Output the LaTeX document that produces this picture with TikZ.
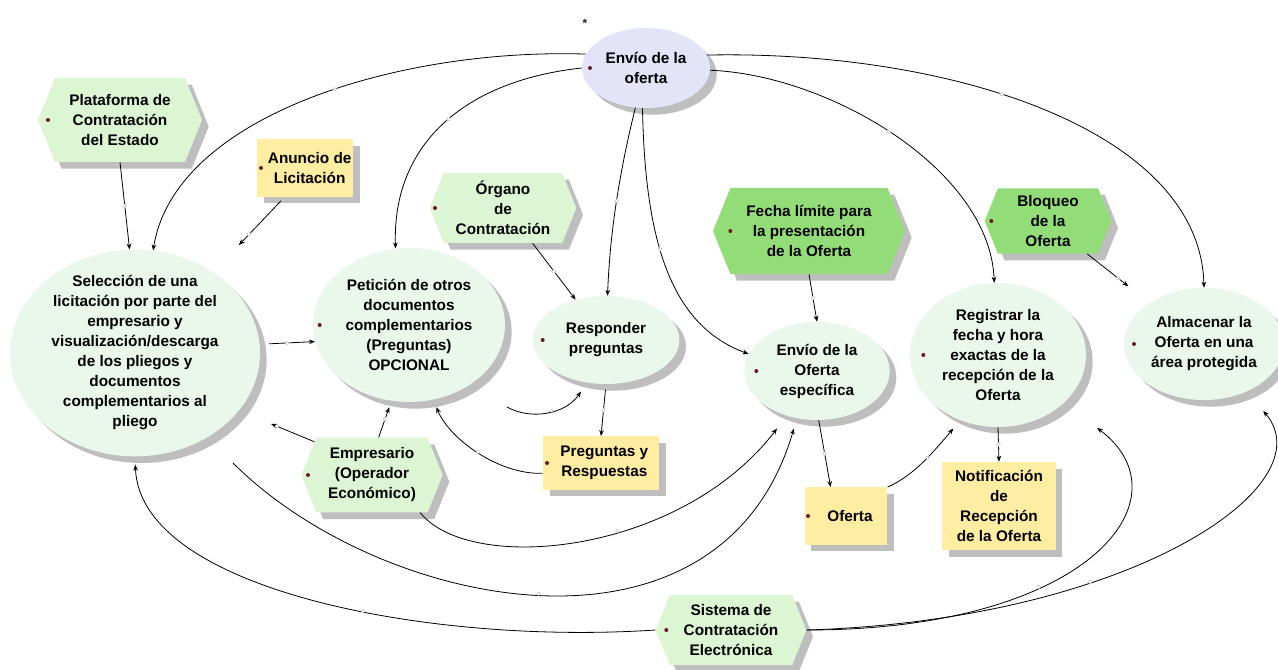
\documentclass[tikz,border=0pt]{standalone}
\usepackage{fontspec}
\setmainfont{Liberation Sans}
\usetikzlibrary{shapes.geometric,shapes.symbols,shadows,arrows.meta,decorations.markings}

\definecolor{palegreen}{RGB}{220,245,210}
\definecolor{brightgreen}{RGB}{146,221,120}
\definecolor{mint}{RGB}{234,248,236}
\definecolor{lavender}{RGB}{228,228,249}
\definecolor{paleyellow}{RGB}{255,237,162}
\definecolor{shadowgray}{RGB}{190,190,190}
\definecolor{dotred}{RGB}{110,25,35}

\begin{document}
\begin{tikzpicture}[x=0.75pt,y=0.75pt,yscale=-1,xscale=1,
  box/.style={font=\bfseries\fontsize{11.5}{15}\selectfont, align=center, text=black, inner sep=0pt,
    drop shadow={shadow xshift=5pt, shadow yshift=-5pt, fill=shadowgray, opacity=1}},
  bubble/.style={box, ellipse, fill=mint},
  hexa/.style={box, signal, signal to=east and west, signal pointer angle=136, fill=palegreen},
  note/.style={box, rectangle, fill=paleyellow},
  withdot/.style={path picture={\fill[dotred] ([xshift=#1]path picture bounding box.west) circle (1.5pt);}},
  conn/.style={draw=black, line width=0.6pt, -{Stealth[length=4.5pt,width=3.5pt]},
    postaction={decorate, decoration={markings, mark=at position 0.5 with {\draw[black!25, line width=0.4pt, fill=white] (0,0) circle (1.4pt);}}}}
]
\path[use as bounding box, fill=white] (0,0) rectangle (1278,670);

% Ellipse nodes
\node[bubble, fill=lavender, withdot=6pt, minimum width=96pt, minimum height=60pt] (envio) at (646,68) {Envío de la\\oferta};
\node[bubble, inner ysep=-12pt, minimum width=187.5pt, minimum height=155pt] (seleccion) at (135,353) {Selección de una\\licitación por parte del\\empresario y\\visualización/descarga\\de los pliegos y\\documentos\\complementarios al\\pliego};
\node[bubble, withdot=5pt, minimum width=144pt, minimum height=115.5pt] (peticion) at (409,325) {Petición de otros\\documentos\\complementarios\\(Preguntas)\\OPCIONAL};
\node[bubble, withdot=7.5pt, minimum width=110pt, minimum height=66pt] (responder) at (606,340) {Responder\\preguntas};
\node[bubble, withdot=9pt, minimum width=109pt, minimum height=73.5pt] (especifica) at (817,371) {Envío de la\\Oferta\\específica};
\node[bubble, withdot=10pt, inner xsep=-4pt, minimum width=132pt, minimum height=108pt] (registrar) at (998,355) {Registrar la\\fecha y hora\\exactas de la\\recepción de la\\Oferta};
\node[bubble, withdot=7.5pt, inner xsep=-5pt, minimum width=120pt, minimum height=84pt] (almacenar) at (1204,344) {Almacenar la\\Oferta en una\\área protegida};

% Hexagon nodes
\node[hexa, withdot=7.5pt, minimum width=123pt, minimum height=63pt] (plataforma) at (120,120) {Plataforma de\\Contratación\\del Estado};
\node[hexa, withdot=4pt, minimum width=110pt, minimum height=52.5pt] (organo) at (503,208) {Órgano\\de\\Contratación};
\node[hexa, fill=brightgreen, withdot=13pt, minimum width=144pt, minimum height=64.5pt] (fecha) at (809,231) {Fecha límite para\\la presentación\\de la Oferta};
\node[hexa, fill=brightgreen, withdot=5pt, minimum width=95pt, minimum height=49pt] (bloqueo) at (1048,221) {Bloqueo\\de la\\Oferta};
\node[hexa, withdot=5pt, minimum width=106pt, minimum height=56pt] (empresario) at (372,475) {Empresario\\(Operador\\Económico)};
\node[hexa, withdot=8pt, minimum width=113pt, minimum height=52.5pt] (sistema) at (731,630) {Sistema de\\Contratación\\Electrónica};

% Note nodes
\node[note, withdot=3pt, minimum width=72pt, minimum height=43pt] (anuncio) at (305,168) {\hspace*{7pt}Anuncio de\\\hspace*{7pt}Licitación};
\node[note, withdot=3pt, minimum width=87pt, minimum height=40pt] (preguntas) at (601,463) {\hspace*{5pt}Preguntas y\\\hspace*{5pt}Respuestas};
\node[note, withdot=2.5pt, minimum width=62pt, minimum height=43pt] (oferta) at (846,516) {\hspace{6pt}Oferta};
\node[note, minimum width=85pt, minimum height=66pt] (notificacion) at (999,506) {Notificación\\de\\Recepción\\de la Oferta};

% Text Node
\node[font=\bfseries\small, text=black!85] (estrella) at (585,23) {*};

% Free ends
\coordinate (curva) at (507,407);
\coordinate (inicio) at (233,463);

%Curve Lines from the top
\draw[conn] (envio.167) .. controls (400,48) and (175,115) .. (seleccion.80);
\draw[conn] (envio.180) .. controls (470,80) and (392,140) .. (peticion.100);
\draw[conn] (envio.-105) .. controls (620,170) and (610,230) .. (responder.88);
\draw[conn] (envio.-95) .. controls (645,240) and (670,325) .. (especifica.166);
\draw[conn] (envio.12) .. controls (950,50) and (1200,130) .. (almacenar.90);
\draw[conn] (envio.-2) .. controls (830,75) and (990,170) .. (registrar.93);

%Straight Lines
\draw[conn] (plataforma.south) -- (seleccion.93);
\draw[conn, shorten <=4pt, shorten >=28pt] (anuncio.-125) -- (seleccion.46);
\draw[conn] (organo.-50) -- (responder.127);
\draw[conn] (fecha.south) -- (especifica.north);
\draw[conn, shorten >=20pt] (bloqueo.-40) -- (almacenar.143);
\draw[conn, shorten <=7pt] (seleccion.4) -- (peticion.190);
\draw[conn, shorten >=5pt] (empresario.80) -- (peticion.-103);
\draw[conn, shorten >=26pt] (empresario.150) -- (seleccion.-29);
\draw[conn, shorten <=4pt] (responder.south) -- (preguntas.north);
\draw[conn] (especifica.-88) -- (oferta.118);
\draw[conn] (registrar.south) -- (notificacion.north);

%Curve Lines in the middle
\draw[conn, shorten >=6pt] (preguntas.190) .. controls (500,475) and (450,440) .. (peticion.-72);
\draw[conn, shorten >=8pt] (curva) .. controls (530,420) and (565,415) .. (responder.-114);
\draw[conn, shorten >=8pt] (oferta.north east) .. controls (915,475) and (935,450) .. (registrar.-120);

%Curve Lines at the bottom
\draw[conn, shorten >=6pt] (sistema.west) .. controls (430,645) and (140,590) .. (seleccion.south);
\draw[conn, shorten >=8pt] (inicio) .. controls (380,610) and (720,680) .. (especifica.-113);
\draw[conn, shorten >=12pt] (empresario.-38) .. controls (470,575) and (680,555) .. (especifica.-124);
\draw[conn, shorten >=31pt] (sistema.east) .. controls (1090,630) and (1190,498) .. (registrar.-36);
\draw[conn, shorten >=19pt] (sistema.east) .. controls (1130,620) and (1327,486) .. (almacenar.-48);

\end{tikzpicture}
\end{document}
